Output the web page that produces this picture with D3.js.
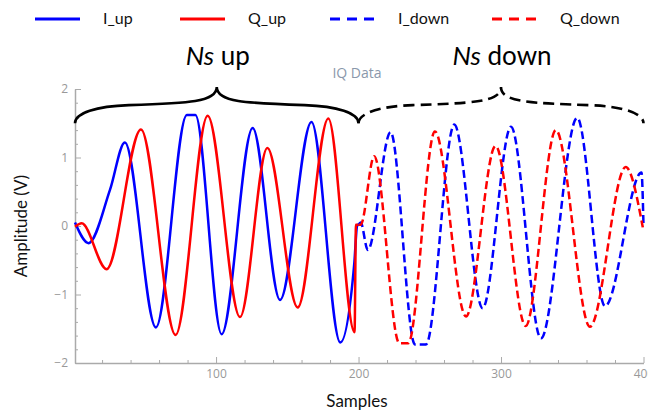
<!DOCTYPE html>
<html>
<head>
<meta charset="utf-8">
<script src="https://cdn.jsdelivr.net/npm/d3@7"></script>
<style>
  html, body { margin: 0; padding: 0; background: #fff; }
  svg { display: block; }
</style>
</head>
<body>
<svg id="chart" width="648" height="412"></svg>
<script>
// ---------- data (sample, amplitude) ----------
const seriesNames = ["I_up", "Q_up", "I_down", "Q_down"];
const xTickValues = [100, 200, 300, 400];
const yTickValues = [-2, -1, 0, 1, 2];
const sectionLabels = ["up", "down"];

const iUp = [[1,0.05],[10.5,-0.25],[25.6,0.53],[36,1.22],[57.8,-1.48],[79.5,1.62],[85.5,1.62],
  [103.9,-1.58],[125.7,1.43],[144.9,-1.08],[167,1.52],[187.2,-1.70],[197,-0.55],[199,0.0],[200,0.02]];
const qUp = [[1,-0.01],[5.7,0.04],[23.2,-0.63],[47.3,1.41],[71.6,-1.59],[94.1,1.61],[116.8,-1.33],
  [136,1.14],[157.3,-1.19],[178.8,1.57],[197.2,-1.55],[198.2,0.02],[200,0.02]];
const iDown = [[200,0.02],[201.5,0.05],[206.5,-0.35],[222.5,1.37],[239.6,-1.73],[247.3,-1.73],
  [267.2,1.48],[287.1,-1.20],[307,1.45],[328,-1.64],[353.5,1.58],[373,-1.17],[398.6,0.78],[400,0.0]];
const qDown = [[200,0.02],[201.5,0.02],[211,1.02],[228.6,-1.71],[234.9,-1.71],[253.6,1.38],
  [275.4,-1.32],[296.2,1.17],[317.3,-1.46],[338.5,1.40],[362.4,-1.47],[387.5,0.86],[399.5,-0.02]];

const seriesData = [iUp, qUp, iDown, qDown];
const seriesColors = ["#0000ff", "#ff0000", "#0000ff", "#ff0000"];
const seriesDash = [null, null, "8,4", "8,4"];

// ---------- layout ----------
const svg = d3.select("#chart");
const x = d3.scaleLinear().domain([1, 400]).range([75, 643.5]);
const y = d3.scaleLinear().domain([-2, 2]).range([363, 89]);

const tickFont = "'Open Sans', 'DejaVu Sans', sans-serif";
const labelFont = "Lato, 'Open Sans', sans-serif";

// minor ticks
svg.append("g")
  .attr("transform", `translate(0,${y(-2)})`)
  .call(d3.axisBottom(x).tickValues(d3.range(20, 400, 20).filter(v => v % 100 !== 0))
    .tickSize(-3).tickFormat(""))
  .call(g => g.select(".domain").remove())
  .call(g => g.selectAll("line").attr("stroke", "#aaa").attr("stroke-width", 1));
svg.append("g")
  .attr("transform", `translate(${x(1)},0)`)
  .call(d3.axisLeft(y).tickValues(d3.range(-1.8, 2, 0.2).filter(v => Math.abs(v - Math.round(v)) > 1e-6))
    .tickSize(-3).tickFormat(""))
  .call(g => g.select(".domain").remove())
  .call(g => g.selectAll("line").attr("stroke", "#aaa").attr("stroke-width", 1));

// major axes
const xAxis = svg.append("g")
  .attr("transform", `translate(0,${y(-2)})`)
  .call(d3.axisBottom(x).tickValues(xTickValues).tickFormat(d3.format("d"))
    .tickSize(-6).tickSizeOuter(0).tickPadding(6));
const yAxis = svg.append("g")
  .attr("transform", `translate(${x(1)},0)`)
  .call(d3.axisLeft(y).tickValues(yTickValues).tickFormat(d3.format("d"))
    .tickSize(-6).tickSizeOuter(0).tickPadding(7));
[xAxis, yAxis].forEach(g => {
  g.select(".domain").attr("stroke", "#aaa").attr("stroke-width", 1.5);
  g.selectAll(".tick line").attr("stroke", "#aaa").attr("stroke-width", 1);
  g.selectAll(".tick text").attr("fill", "#999").style("font-family", tickFont).style("font-size", "12px");
});

// series
const line = d3.line().x(d => x(d[0])).y(d => y(d[1])).curve(d3.curveMonotoneX);
seriesData.forEach((data, i) => {
  svg.append("path")
    .datum(data)
    .attr("fill", "none")
    .attr("stroke", seriesColors[i])
    .attr("stroke-width", 2.5)
    .attr("stroke-dasharray", seriesDash[i])
    .attr("stroke-linejoin", "round")
    .attr("d", line);
});

// braces
function brace(x0, x1, yEnd, yBar, yTip) {
  const m = (x0 + x1) / 2, h = (x1 - x0) / 2;
  return `M${x0},${yEnd}` +
    `C${x0},${yEnd - 10} ${x0 + 0.15 * h},${yBar} ${x0 + 0.38 * h},${yBar - 1}` +
    `C${x0 + 0.8 * h},${yBar - 3} ${m},${yBar - 4} ${m},${yTip}` +
    `C${m},${yBar - 4} ${x1 - 0.8 * h},${yBar - 3} ${x1 - 0.38 * h},${yBar - 1}` +
    `C${x1 - 0.15 * h},${yBar} ${x1},${yEnd - 10} ${x1},${yEnd}`;
}
const braceSpans = [[1, 200], [200, 400]];
braceSpans.forEach((s, i) => {
  svg.append("path")
    .attr("d", brace(x(s[0]), x(s[1]), y(1.5), y(1.75), y(2.03)))
    .attr("fill", "none")
    .attr("stroke", "#000")
    .attr("stroke-width", 2.6)
    .attr("stroke-dasharray", i === 1 ? "11,6" : null);
  const t = svg.append("text")
    .attr("x", x((s[0] + s[1]) / 2) + 1)
    .attr("y", 64.5)
    .attr("text-anchor", "middle")
    .style("font-family", labelFont)
    .style("font-size", "26px")
    .attr("fill", "#000");
  t.append("tspan").style("font-style", "italic").text("Ns");
  t.append("tspan").text(" " + sectionLabels[i]);
});

// title
svg.append("text")
  .attr("x", 357).attr("y", 77.5)
  .attr("text-anchor", "middle")
  .style("font-family", tickFont).style("font-size", "14px")
  .attr("fill", "#8a98ab")
  .text("IQ Data");

// axis titles
svg.append("text")
  .attr("x", 357).attr("y", 407)
  .attr("text-anchor", "middle")
  .style("font-family", labelFont).style("font-size", "17px")
  .attr("fill", "#111")
  .text("Samples");
svg.append("text")
  .attr("transform", `translate(27,${(y(-2) + y(2)) / 2}) rotate(-90)`)
  .attr("text-anchor", "middle")
  .style("font-family", labelFont).style("font-size", "17px")
  .attr("fill", "#111")
  .text("Amplitude (V)");

// legend
const legendX = [35, 180, 330, 492];
const legend = svg.append("g");
seriesNames.forEach((name, i) => {
  const lx = legendX[i];
  legend.append("line")
    .attr("x1", lx).attr("x2", lx + 45).attr("y1", 19).attr("y2", 19)
    .attr("stroke", seriesColors[i]).attr("stroke-width", 3)
    .attr("stroke-dasharray", seriesDash[i] ? "10,7" : null);
  legend.append("text")
    .attr("x", lx + 68).attr("y", 24)
    .style("font-family", labelFont).style("font-size", "16px")
    .attr("fill", "#111")
    .text(name);
});
</script>
</body>
</html>
